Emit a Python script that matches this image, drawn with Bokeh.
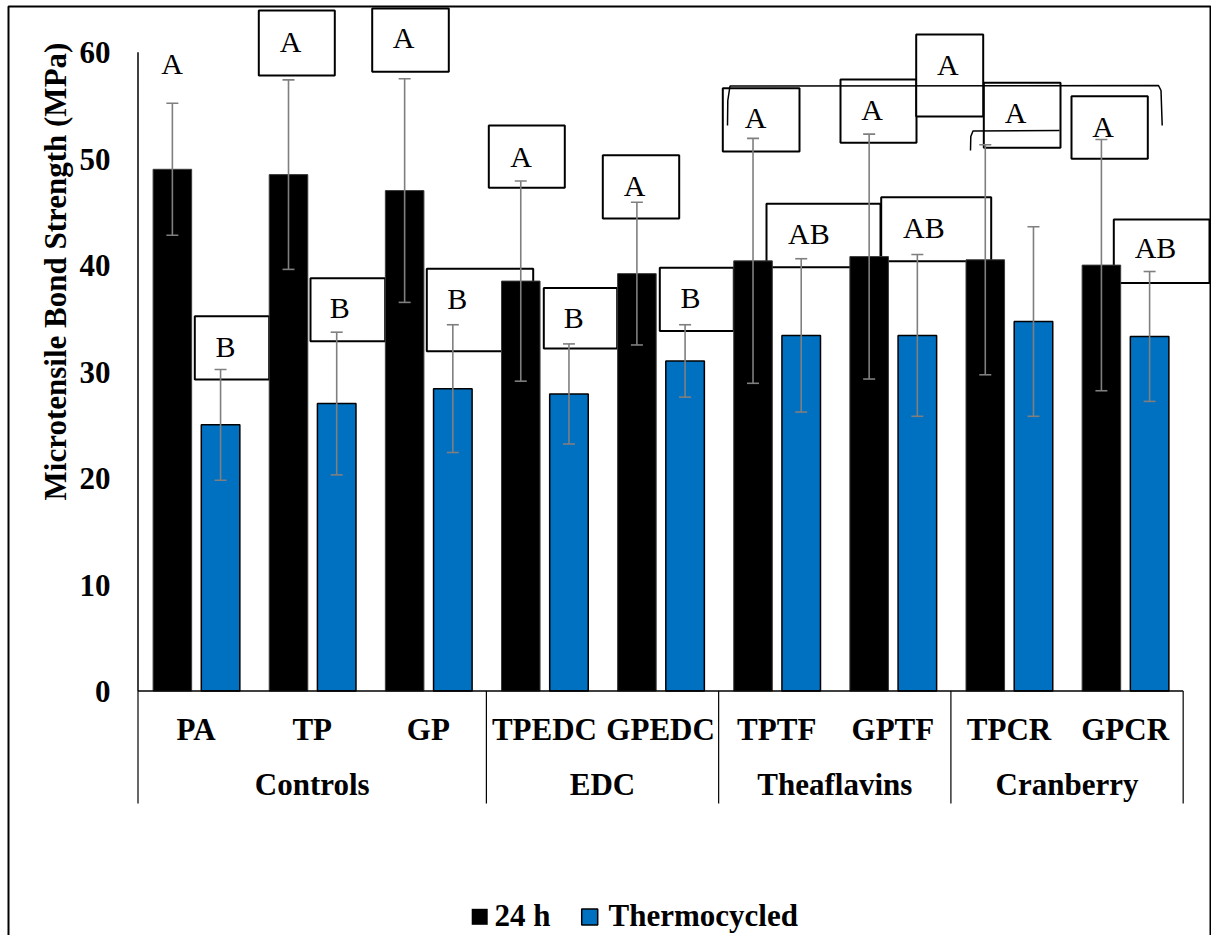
import numpy as np
from bokeh.plotting import figure
from bokeh.models import ColumnDataSource, Range1d, Whisker, TeeHead
from bokeh.core.properties import value
from bokeh.embed import file_html
from bokeh.resources import INLINE

# ---------------- data ----------------
categories = ["PA", "TP", "GP", "TPEDC", "GPEDC", "TPTF", "GPTF", "TPCR", "GPCR"]
groups = ["Controls", "EDC", "Theaflavins", "Cranberry"]
group_sizes = [3, 2, 2, 2]
series_names = ["24 h", "Thermocycled"]
mean_24h = [49.0, 48.5, 47.0, 38.5, 39.2, 40.4, 40.8, 40.5, 40.0]
sd_24h = [6.2, 8.9, 10.5, 9.4, 6.7, 11.5, 11.5, 10.8, 11.8]
mean_tc = [25.0, 27.0, 28.4, 27.9, 31.0, 33.4, 33.4, 34.7, 33.3]
sd_tc = [5.2, 6.7, 6.0, 4.7, 3.4, 7.2, 7.6, 8.9, 6.1]
letters_24h = ["A", "A", "A", "A", "A", "A", "A", "A", "A"]
letters_tc = ["B", "B", "B", "B", "B", "AB", "AB", "A", "AB"]
y_ticks = [0, 10, 20, 30, 40, 50, 60]
y_label = "Microtensile Bond Strength (MPa)"

# ---------------- layout (canvas pixels -> data units) ----------------
W, H = 1211, 935
PX_X0, PX_PER_X = 137.5, 116.13     # canvas x of first category edge, px per category
PX_Y0, PX_PER_Y = 690.5, 10.647     # canvas y of 0 MPa, px per MPa
TEXT_DY = 11                        # correction of the rendered alphabetic baseline


def dx(px):
    return (px - PX_X0) / PX_PER_X


def dy(py):
    return (PX_Y0 - py) / PX_PER_Y


OFF_24, OFF_TC, BAR_W = 0.296, 0.711, 0.332
BLUE = "#0070C0"
GRAY = "#7F7F7F"
FONT = value("Liberation Serif")

# annotation text boxes (left, right, top, bottom) and letter centres, px
LETTER_POS_24 = [(171.5, 64), (290, 42), (403, 38), (520.7, 157.4), (634, 186),
                 (755, 118.3), (871.7, 110), (1015, 113.3), (1102.7, 126.7)]
BOX_24 = [None, (258.3, 334.3, 10, 75), (371.7, 448.3, 8, 71.3),
          (488.3, 564.3, 124.9, 187.3), (602.3, 678.7, 154.7, 217.9),
          (722.3, 799, 87.7, 151), (840, 916, 79, 142.3),
          (983.3, 1060, 82.3, 147.3), (1071, 1147.3, 95.7, 158.3)]
LETTER_POS_TC = [(225, 346.7), (339.3, 308.3), (456.7, 299), (573.3, 318), (690, 298.2),
                 (808.3, 234), (923.3, 228.3), (947.3, 65), (1155, 248.3)]
BOX_TC = [(194.3, 268.7, 315.7, 379), (310, 384.7, 277.7, 340.7),
          (426.3, 532.7, 268.3, 350.7), (543.3, 616.7, 287.5, 348),
          (659.3, 733.3, 267.2, 330.4), (766, 880, 203.3, 266.7),
          (880.7, 990.7, 196.7, 260.7), (915.7, 982.7, 34, 116),
          (1113.3, 1209, 219, 282.5)]
BRACKETS = [
    [(727, 125), (727.3, 100), (729.5, 85.5), (1158, 85), (1160.5, 90), (1161.7, 125)],
    [(970, 150), (970.3, 136), (972.5, 130.5), (1059, 130)],
]

p = figure(width=W, height=H, output_backend="svg", toolbar_location=None,
           x_range=Range1d(dx(0), dx(W)), y_range=Range1d(dy(H), dy(0)),
           x_axis_location=None, y_axis_location=None, min_border=0)
p.outline_line_color = None
p.grid.visible = False
p.background_fill_color = "white"
p.border_fill_color = "white"

# outer chart border
p.line([dx(8), dx(8), dx(1210), dx(1210)], [dy(960), dy(6), dy(6), dy(960)],
       line_color="black", line_width=2)

# annotation boxes
boxes = [b for b in BOX_24 + BOX_TC if b is not None]
p.quad(left=[dx(b[0]) for b in boxes], right=[dx(b[1]) for b in boxes],
       top=[dy(b[2]) for b in boxes], bottom=[dy(b[3]) for b in boxes],
       fill_color="white", line_color="black", line_width=2)
for br in BRACKETS:
    p.line([dx(q[0]) for q in br], [dy(q[1]) for q in br], line_color="black", line_width=1.5)

# bars
n = len(categories)
idx = np.arange(n)
src24 = ColumnDataSource(dict(x=idx + OFF_24, top=mean_24h,
                              upper=np.array(mean_24h) + np.array(sd_24h),
                              lower=np.array(mean_24h) - np.array(sd_24h)))
srctc = ColumnDataSource(dict(x=idx + OFF_TC, top=mean_tc,
                              upper=np.array(mean_tc) + np.array(sd_tc),
                              lower=np.array(mean_tc) - np.array(sd_tc)))
p.vbar(x="x", top="top", bottom=0, width=BAR_W, source=src24,
       fill_color="black", line_color="#3a3a3a", line_width=1)
p.vbar(x="x", top="top", bottom=0, width=BAR_W, source=srctc,
       fill_color=BLUE, line_color="black", line_width=1.5)

# significance letters
lx = [dx(q[0]) for q in LETTER_POS_24 + LETTER_POS_TC]
ly = [dy(q[1] + 10 - TEXT_DY) for q in LETTER_POS_24 + LETTER_POS_TC]
p.text(x=lx, y=ly, text=letters_24h + letters_tc, text_font=FONT, text_font_size="30px",
       text_align="center", text_baseline="alphabetic", text_color="black")

# error bars
for s in (src24, srctc):
    p.add_layout(Whisker(source=s, base="x", upper="upper", lower="lower",
                         line_color=GRAY, line_width=1.6, level="annotation",
                         upper_head=TeeHead(size=12, line_color=GRAY, line_width=1.6),
                         lower_head=TeeHead(size=12, line_color=GRAY, line_width=1.6)))

# axes lines
p.segment(x0=[0, 0], y0=[0, 0], x1=[n, 0], y1=[0, max(y_ticks)], line_color="black", line_width=1.5)
bounds = np.concatenate([[0], np.cumsum(group_sizes)])
p.segment(x0=bounds, y0=[0] * len(bounds), x1=bounds, y1=[dy(803)] * len(bounds),
          line_color="black", line_width=1.2)

# y tick labels
p.text(x=[dx(110)] * len(y_ticks), y=[t - (10.5 - TEXT_DY + 1) / PX_PER_Y for t in y_ticks],
       text=[str(t) for t in y_ticks], text_font=FONT, text_font_style="bold",
       text_font_size="31px", text_align="right", text_baseline="alphabetic")
# y axis label (rotated: its baseline lies on the right)
p.text(x=[dx(66 - TEXT_DY)], y=[dy(271)], text=[y_label], angle=np.pi / 2, text_font=FONT,
       text_font_style="bold", text_font_size="31px", text_align="center",
       text_baseline="alphabetic")

# category and group labels
p.text(x=idx + 0.5, y=[dy(739.5 - TEXT_DY)] * n, text=categories, text_font=FONT,
       text_font_style="bold", text_font_size="31px", text_align="center",
       text_baseline="alphabetic")
gcent = (bounds[:-1] + bounds[1:]) / 2
p.text(x=gcent, y=[dy(794.5 - TEXT_DY)] * len(groups), text=groups, text_font=FONT,
       text_font_style="bold", text_font_size="31px", text_align="center",
       text_baseline="alphabetic")

# legend
p.scatter(x=[dx(479.2)], y=[dy(916.3)], marker="square", size=16,
          fill_color="black", line_color=None)
p.scatter(x=[dx(589.2)], y=[dy(916.5)], marker="square", size=16,
          fill_color=BLUE, line_color="black", line_width=1.5)
p.text(x=[dx(494), dx(608)], y=[dy(926.3 - TEXT_DY)] * 2, text=series_names, text_font=FONT,
       text_font_style="bold", text_font_size="31px", text_align="left",
       text_baseline="alphabetic")

open("out.html", "w").write(file_html(p, INLINE))
